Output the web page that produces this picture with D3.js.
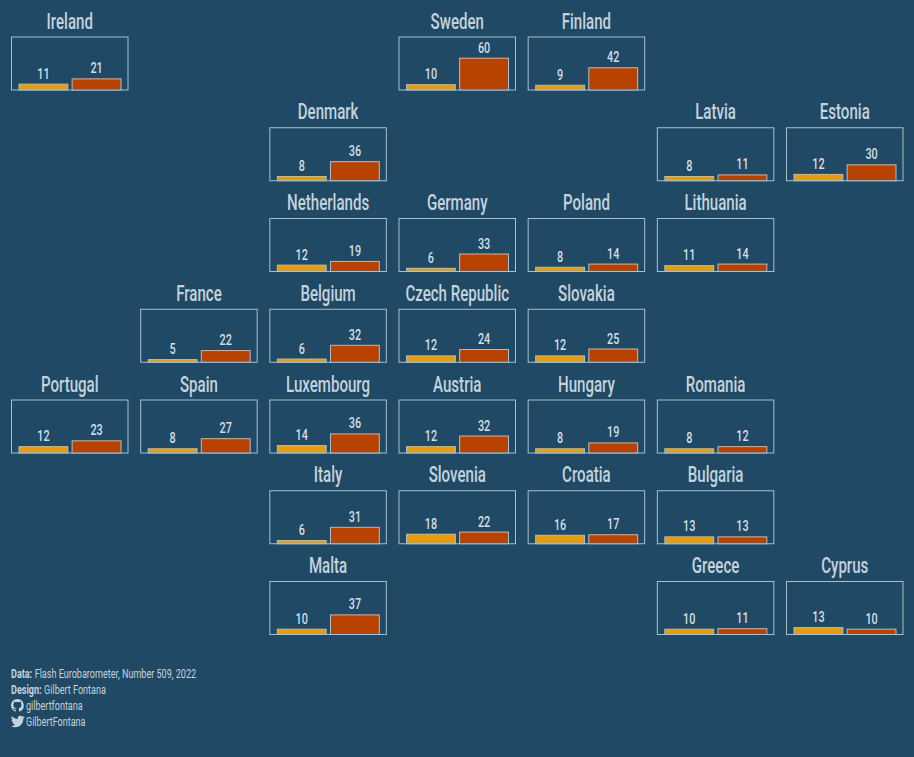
<!DOCTYPE html>
<html><head><meta charset="utf-8">
<script src="https://cdn.jsdelivr.net/npm/d3@7"></script>
<style>html,body{margin:0;padding:0;background:#1f4965;overflow:hidden}svg{display:block}text{font-family:Roboto,sans-serif}</style>
</head><body><svg id="c" width="914" height="757"></svg>
<script>
const countries=["Ireland","Sweden","Finland","Denmark","Latvia","Estonia","Netherlands","Germany","Poland","Lithuania","France","Belgium","Czech Republic","Slovakia","Portugal","Spain","Luxembourg","Austria","Hungary","Romania","Italy","Slovenia","Croatia","Bulgaria","Malta","Greece","Cyprus"];
const gridCols=[0,3,4,2,5,6,2,3,4,5,1,2,3,4,0,1,2,3,4,5,2,3,4,5,2,5,6];
const gridRows=[0,0,0,1,1,1,2,2,2,2,3,3,3,3,4,4,4,4,4,4,5,5,5,5,6,6,6];
const series2019=[11,10,9,8,8,12,12,6,8,11,5,6,12,12,12,8,14,12,8,8,6,18,16,13,10,10,13];
const series2022=[21,60,42,36,11,30,19,33,14,14,22,32,24,25,23,27,36,32,19,12,31,22,17,13,37,11,10];
const colors=["#e59c0e","#b84300"];
const svg=d3.select("#c");
const stroke="#a9c0cf",titleCol="#c5d3dc",labelCol="#d5dfe5";
const xPanel=d3.scaleLinear().domain([0,6]).range([11.5,786.5]);
const yPanel=d3.scaleLinear().domain([0,6]).range([37,581.5]);
const W=116.5,H=53;
const inner=d3.scaleBand().domain([0,1]).range([7.5,109.5]).paddingInner(0.08);
const y=d3.scaleLinear().domain([0,100]).range([H,0]);
function cond(g,x,yy,str,size,fill,sx,anchor,weight){
  return g.append("text").attr("transform",`translate(${x},${yy}) scale(${sx},1)`)
   .attr("text-anchor",anchor||"middle").attr("font-size",size).attr("font-weight",weight||500).attr("fill",fill).text(str);
}
countries.forEach((name,i)=>{
  const g=svg.append("g").attr("transform",`translate(${xPanel(gridCols[i])},${yPanel(gridRows[i])})`);
  cond(g,W/2,-8.5,name,22,titleCol,0.685);
  g.append("rect").attr("width",W).attr("height",H).attr("fill","none").attr("stroke",stroke).attr("stroke-width",1);
  [series2019[i],series2022[i]].forEach((v,k)=>{
    g.append("rect").attr("x",inner(k)).attr("y",y(v)).attr("width",inner.bandwidth()).attr("height",H-y(v))
      .attr("fill",colors[k]).attr("stroke",stroke).attr("stroke-width",1);
    cond(g,inner(k)+inner.bandwidth()/2,y(v)-5.5,v,15.5,labelCol,0.7);
  });
});
const foot=svg.append("g");
const footer=[["Data:","Flash Eurobarometer, Number 509, 2022",678],["Design:","Gilbert Fontana",694]];
const sx=0.67,fs=13.5;
footer.forEach(([b,t,yy])=>{
  const tb=cond(foot,11,yy,b,fs,titleCol,sx,"start",700);
  const w=tb.node().getComputedTextLength()*sx;
  cond(foot,11+w+2.5,yy,t,fs,titleCol,sx,"start",400);
});
const ghPath="M8 0C3.58 0 0 3.58 0 8c0 3.54 2.29 6.53 5.47 7.59.4.07.55-.17.55-.38 0-.19-.01-.82-.01-1.49-2.01.37-2.53-.49-2.69-.94-.09-.23-.48-.94-.82-1.13-.28-.15-.68-.52-.01-.53.63-.01 1.08.58 1.23.82.72 1.21 1.87.87 2.33.66.07-.52.28-.87.51-1.07-1.78-.2-3.64-.89-3.64-3.95 0-.87.31-1.59.82-2.15-.08-.2-.36-1.02.08-2.12 0 0 .67-.21 2.2.82.64-.18 1.32-.27 2-.27s1.36.09 2 .27c1.53-1.04 2.2-.82 2.2-.82.44 1.1.16 1.92.08 2.12.51.56.82 1.27.82 2.15 0 3.07-1.87 3.75-3.65 3.95.29.25.54.73.54 1.48 0 1.07-.01 1.93-.01 2.2 0 .21.15.46.55.38A8.01 8.01 0 0 0 16 8c0-4.42-3.58-8-8-8z";
const twPath="M16 3.04c-.59.26-1.22.44-1.88.52.68-.41 1.2-1.05 1.44-1.81-.63.37-1.33.64-2.08.79A3.28 3.28 0 0 0 7.88 5.53 9.3 9.3 0 0 1 1.11 2.1a3.28 3.28 0 0 0 1.02 4.38c-.54-.02-1.05-.17-1.49-.41v.04c0 1.59 1.13 2.91 2.63 3.22-.48.13-.99.15-1.48.06a3.28 3.28 0 0 0 3.07 2.28A6.6 6.6 0 0 1 0 13.43 9.29 9.29 0 0 0 5.03 14.9c6.04 0 9.34-5 9.34-9.34l-.01-.42c.64-.46 1.2-1.04 1.64-1.7z";
foot.append("path").attr("d",ghPath).attr("transform","translate(11,699) scale(0.8)").attr("fill",titleCol);
foot.append("path").attr("d",twPath).attr("transform","translate(11,714.5) scale(0.85)").attr("fill",titleCol);
cond(foot,26,710,"gilbertfontana",fs,titleCol,sx,"start",400);
cond(foot,26,726,"GilbertFontana",fs,titleCol,sx,"start",400);
</script></body></html>
